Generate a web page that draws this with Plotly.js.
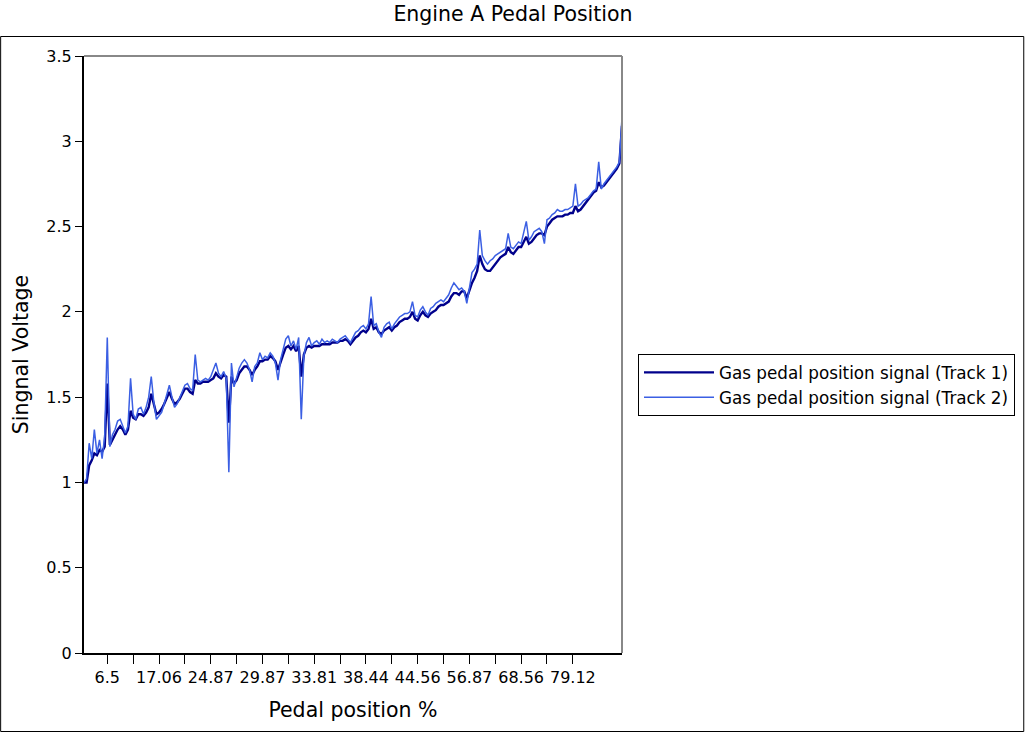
<!DOCTYPE html>
<html>
<head>
<meta charset="utf-8">
<script src="https://cdn.plot.ly/plotly-3.0.1.min.js"></script>
<style>html,body{margin:0;padding:0;background:#fff;}#chart{width:1026px;height:732px;}</style>
</head>
<body>
<div id="chart"></div>
<script>
// Pedal position % (categorical x values)
var pedalPosition = [
  0.31, 1.12, 1.75, 2.44, 3.06, 3.68, 4.25, 5.00, 5.81, 6.50,
  7.12, 7.81, 8.44, 9.00, 9.75, 10.50, 11.25, 12.00, 12.69, 13.44,
  14.00, 14.56, 15.06, 15.44, 15.81, 16.06, 16.31, 16.56, 16.81, 17.06,
  17.50, 18.00, 18.44, 18.88, 19.31, 19.75, 20.19, 20.69, 21.12, 21.56,
  22.00, 22.44, 22.81, 23.12, 23.44, 23.75, 24.06, 24.31, 24.56, 24.87,
  25.19, 25.50, 25.75, 26.06, 26.31, 26.56, 26.81, 27.06, 27.31, 27.56,
  27.81, 28.06, 28.25, 28.44, 28.69, 28.88, 29.12, 29.38, 29.62, 29.87,
  30.06, 30.25, 30.44, 30.62, 30.81, 31.00, 31.19, 31.38, 31.56, 31.75,
  31.94, 32.12, 32.31, 32.50, 32.69, 32.94, 33.12, 33.31, 33.56, 33.81,
  34.06, 34.31, 34.56, 34.81, 35.06, 35.31, 35.56, 35.81, 36.06, 36.31,
  36.56, 36.75, 36.94, 37.12, 37.31, 37.50, 37.75, 38.00, 38.19, 38.44,
  38.69, 38.94, 39.19, 39.44, 39.69, 39.94, 40.19, 40.44, 40.69, 40.94,
  41.25, 41.56, 41.88, 42.19, 42.50, 42.81, 43.12, 43.50, 44.06, 44.56,
  45.12, 45.69, 46.25, 46.88, 47.50, 48.12, 48.75, 49.38, 50.00, 50.62,
  51.25, 51.88, 52.50, 53.12, 53.75, 54.38, 55.00, 55.62, 56.25, 56.87,
  57.44, 58.06, 58.62, 59.25, 59.81, 60.44, 61.00, 61.62, 62.19, 62.81,
  63.38, 63.94, 64.50, 65.06, 65.62, 66.19, 66.75, 67.31, 67.94, 68.56,
  69.12, 69.62, 70.19, 70.75, 71.25, 71.81, 72.38, 72.94, 73.50, 74.06,
  74.62, 75.12, 75.62, 76.12, 76.62, 77.12, 77.62, 78.12, 78.62, 79.12,
  79.62, 80.06, 80.50, 80.94, 81.38, 81.81, 82.25, 82.69, 83.12, 83.56,
  84.00, 84.44, 84.88, 85.31, 85.75, 86.19, 86.62, 87.06, 87.50
];

// Gas pedal position signal (Track 1), volts
var track1 = [
  1.00, 1.00, 1.10, 1.13, 1.17, 1.16, 1.19, 1.18, 1.21, 1.58,
  1.22, 1.25, 1.28, 1.31, 1.33, 1.31, 1.28, 1.31, 1.42, 1.38,
  1.37, 1.40, 1.40, 1.39, 1.41, 1.44, 1.52, 1.45, 1.40, 1.41,
  1.43, 1.46, 1.50, 1.53, 1.49, 1.46, 1.47, 1.49, 1.52, 1.55,
  1.55, 1.53, 1.52, 1.60, 1.58, 1.58, 1.59, 1.59, 1.59, 1.60,
  1.61, 1.64, 1.62, 1.61, 1.63, 1.62, 1.35, 1.62, 1.58, 1.60,
  1.64, 1.66, 1.68, 1.68, 1.66, 1.63, 1.66, 1.68, 1.71, 1.71,
  1.72, 1.72, 1.74, 1.73, 1.71, 1.66, 1.71, 1.75, 1.79, 1.80,
  1.78, 1.80, 1.77, 1.80, 1.62, 1.75, 1.79, 1.80, 1.79, 1.80,
  1.80, 1.80, 1.81, 1.81, 1.81, 1.81, 1.82, 1.82, 1.82, 1.83,
  1.83, 1.84, 1.83, 1.81, 1.83, 1.85, 1.86, 1.88, 1.89, 1.88,
  1.90, 1.96, 1.90, 1.91, 1.88, 1.87, 1.89, 1.90, 1.91, 1.89,
  1.91, 1.92, 1.94, 1.95, 1.96, 1.96, 1.97, 2.00, 1.96, 1.95,
  1.98, 2.00, 1.98, 1.97, 1.99, 2.00, 2.01, 2.03, 2.04, 2.04,
  2.05, 2.06, 2.09, 2.11, 2.11, 2.10, 2.12, 2.12, 2.08, 2.13,
  2.17, 2.20, 2.24, 2.33, 2.28, 2.25, 2.24, 2.24, 2.26, 2.28,
  2.30, 2.32, 2.33, 2.34, 2.38, 2.35, 2.34, 2.36, 2.38, 2.38,
  2.41, 2.44, 2.40, 2.41, 2.43, 2.45, 2.46, 2.46, 2.45, 2.50,
  2.52, 2.54, 2.55, 2.56, 2.56, 2.56, 2.57, 2.57, 2.58, 2.58,
  2.62, 2.59, 2.60, 2.62, 2.64, 2.66, 2.68, 2.70, 2.71, 2.76,
  2.73, 2.74, 2.76, 2.78, 2.80, 2.82, 2.84, 2.87, 3.09
];

// Gas pedal position signal (Track 2), volts
var track2 = [
  1.00, 1.02, 1.23, 1.14, 1.31, 1.17, 1.25, 1.14, 1.27, 1.85,
  1.21, 1.28, 1.31, 1.36, 1.37, 1.33, 1.29, 1.33, 1.61, 1.40,
  1.37, 1.43, 1.44, 1.40, 1.44, 1.50, 1.62, 1.47, 1.37, 1.39,
  1.41, 1.46, 1.52, 1.57, 1.50, 1.44, 1.46, 1.50, 1.54, 1.57,
  1.58, 1.55, 1.54, 1.75, 1.60, 1.59, 1.60, 1.61, 1.60, 1.62,
  1.66, 1.70, 1.64, 1.62, 1.65, 1.61, 1.06, 1.70, 1.56, 1.62,
  1.67, 1.70, 1.72, 1.70, 1.66, 1.59, 1.68, 1.70, 1.76, 1.72,
  1.74, 1.73, 1.76, 1.74, 1.70, 1.60, 1.72, 1.78, 1.84, 1.86,
  1.80, 1.83, 1.78, 1.85, 1.37, 1.74, 1.82, 1.85, 1.80, 1.82,
  1.83, 1.81, 1.84, 1.82, 1.83, 1.82, 1.84, 1.83, 1.82, 1.84,
  1.85, 1.86, 1.84, 1.82, 1.85, 1.88, 1.89, 1.91, 1.92, 1.90,
  1.93, 2.09, 1.92, 1.93, 1.88, 1.85, 1.91, 1.93, 1.94, 1.90,
  1.93, 1.95, 1.97, 1.98, 1.99, 1.99, 2.00, 2.06, 1.98, 1.97,
  2.01, 2.03, 2.00, 1.98, 2.02, 2.03, 2.05, 2.06, 2.07, 2.06,
  2.08, 2.10, 2.14, 2.17, 2.15, 2.13, 2.14, 2.12, 2.05, 2.14,
  2.23, 2.25, 2.28, 2.48, 2.33, 2.30, 2.28, 2.30, 2.31, 2.33,
  2.34, 2.35, 2.36, 2.37, 2.46, 2.38, 2.37, 2.39, 2.41, 2.40,
  2.46, 2.53, 2.42, 2.44, 2.47, 2.48, 2.49, 2.47, 2.40, 2.54,
  2.55, 2.57, 2.58, 2.60, 2.59, 2.59, 2.60, 2.60, 2.61, 2.62,
  2.75, 2.62, 2.63, 2.65, 2.66, 2.67, 2.69, 2.71, 2.72, 2.88,
  2.72, 2.75, 2.77, 2.79, 2.81, 2.83, 2.85, 2.88, 3.14
];

// x-axis tick marks (every 10th category) and the labels shown (every other tick)
var xTickVals = [6.50, 13.44, 17.06, 21.56, 24.87, 27.56, 29.87, 31.75, 33.81, 36.31,
                 38.44, 40.94, 44.56, 50.62, 56.87, 62.81, 68.56, 74.06, 79.12];
var xTickText = ["6.5", "", "17.06", "", "24.87", "", "29.87", "", "33.81", "",
                 "38.44", "", "44.56", "", "56.87", "", "68.56", "", "79.12"];

var seriesNames = ["Gas pedal position signal (Track 1)", "Gas pedal position signal (Track 2)"];

var FONT = "DejaVu Sans, Verdana, sans-serif";
var xCats = pedalPosition.map(function (v) { return String(v); });

var traces = [
  { x: xCats, y: track1, type: "scatter", mode: "lines", name: seriesNames[0],
    line: { color: "#00008b", width: 2.4 } },
  { x: xCats, y: track2, type: "scatter", mode: "lines", name: seriesNames[1],
    line: { color: "#3b5fe3", width: 1.5 } }
];

var L = 84, R = 623, T = 56, B = 653, W = 1026, H = 732;
var pw = R - L, ph = B - T;
function px(x) { return (x - L) / pw; }
function py(y) { return (B - y) / ph; }

var layout = {
  width: W, height: H,
  margin: { l: L, r: W - R, t: T, b: H - B, pad: 0 },
  paper_bgcolor: "#fff", plot_bgcolor: "#fff",
  font: { family: FONT, size: 16, color: "#000" },
  title: { text: "Engine A Pedal Position", font: { family: FONT, size: 20.5, color: "#000" },
           x: 0.5, xref: "container", xanchor: "center", y: 1 - 14 / H, yref: "container", yanchor: "middle" },
  showlegend: true,
  legend: {
    x: px(638), xanchor: "left", y: py(354), yanchor: "top",
    bordercolor: "#000", borderwidth: 1, bgcolor: "#fff",
    font: { family: FONT, size: 16.8, color: "#000" },
    itemwidth: 70, tracegroupgap: 0
  },
  xaxis: {
    type: "category",
    range: [0, pedalPosition.length - 1],
    tickmode: "array",
    tickvals: xTickVals.map(function (v) { return String(v); }),
    ticktext: xTickText,
    ticks: "outside", ticklen: 9, tickwidth: 1, tickcolor: "#000",
    tickfont: { family: FONT, size: 16, color: "#000" },
    showline: true, linecolor: "#000", linewidth: 2,
    showgrid: false, zeroline: false, automargin: false,
    title: { text: "Pedal position %", font: { family: FONT, size: 20.5, color: "#000" }, standoff: 16 }
  },
  yaxis: {
    range: [0, 3.5], dtick: 0.5, tick0: 0,
    ticks: "outside", ticklen: 7, tickwidth: 1, tickcolor: "#000",
    tickfont: { family: FONT, size: 16, color: "#000" },
    showline: true, linecolor: "#000", linewidth: 2,
    showgrid: false, zeroline: false, automargin: false,
    title: { text: "Singnal Voltage", font: { family: FONT, size: 20.5, color: "#000" }, standoff: 12 }
  },
  shapes: [
    { type: "line", xref: "paper", yref: "paper", x0: 0, x1: 1, y0: 1, y1: 1,
      line: { color: "#888", width: 2 } },
    { type: "line", xref: "paper", yref: "paper", x0: 1, x1: 1, y0: 0, y1: 1,
      line: { color: "#888", width: 2 } },
    { type: "rect", xref: "paper", yref: "paper",
      x0: px(0.5), x1: px(1025.5), y0: py(731.5), y1: py(36.5),
      line: { color: "#000", width: 1 }, fillcolor: "rgba(0,0,0,0)" }
  ]
};

Plotly.newPlot("chart", traces, layout, { displayModeBar: false, staticPlot: true });
</script>
</body>
</html>
